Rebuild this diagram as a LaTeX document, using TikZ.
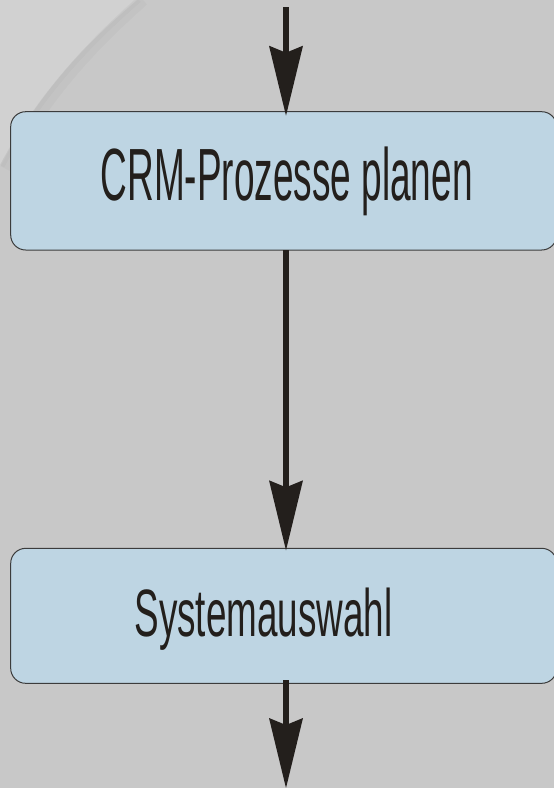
\documentclass[tikz,border=0pt]{standalone}
\usepackage{fontspec}
\newfontfamily\narrowA[FakeStretch=0.5]{Liberation Sans}
\newfontfamily\narrowB[FakeStretch=0.55]{Liberation Sans}
\usetikzlibrary{arrows.meta}
\definecolor{paper}{HTML}{C8C8C8}
\definecolor{paperlight}{HTML}{D1D1D1}
\definecolor{boxfill}{HTML}{BED5E3}
\definecolor{boxline}{HTML}{3C3C3C}
\definecolor{ink}{HTML}{231F1C}
\tikzset{
  procbox/.style={draw=boxline, line width=1pt, fill=boxfill, rounded corners=15pt,
    inner sep=0pt, outer sep=0pt, anchor=north west},
  caption/.style={text=ink, inner sep=0pt, outer sep=0pt},
  flow/.style={draw=ink, line width=6pt,
    -{Stealth[length=70pt, width=34pt, inset=7pt, line width=0pt]}},
}
\begin{document}
\begin{tikzpicture}[x=1pt, y=-1pt]
\useasboundingbox (0,0) rectangle (554,788);
\clip (0,0) rectangle (554,788);
% paper background with a lighter folded corner
\fill[paper] (0,0) rectangle (554,788);
\fill[paperlight] (0,0) -- (137,0) .. controls (90,40) and (40,90) .. (0,165) -- cycle;
\draw[line width=12pt, black, opacity=0.025] (143,0) .. controls (96,42) and (46,92) .. (6,169);
\draw[line width=5pt, black, opacity=0.02] (139,0) .. controls (92,41) and (42,91) .. (2,166);

% process boxes
\node[procbox, minimum width=546pt, minimum height=138.3pt] (plan) at (10.7,111.7) {};
\node[procbox, minimum width=546pt, minimum height=135pt] (sys) at (10.7,548.3) {};

% box captions
\node[caption, anchor=base] (plantext) at (286.7,200.7)
  {\narrowA\fontsize{74}{80}\selectfont CRM-Prozesse planen};
\node[caption, anchor=base west] (systext) at (134.5,636.7)
  {\narrowB\fontsize{67}{72}\selectfont Systemauswahl};

% flow arrows
\coordinate (top) at (286,7);
\coordinate (bottom) at (286,788);
\draw[flow, shorten >=-4pt] (top) -- (top |- plan.north);
\draw[flow, shorten >=-2pt] (top |- plan.south) -- (top |- sys.north);
\draw[flow, shorten <=-3pt] (top |- sys.south) -- (bottom);
\end{tikzpicture}
\end{document}
